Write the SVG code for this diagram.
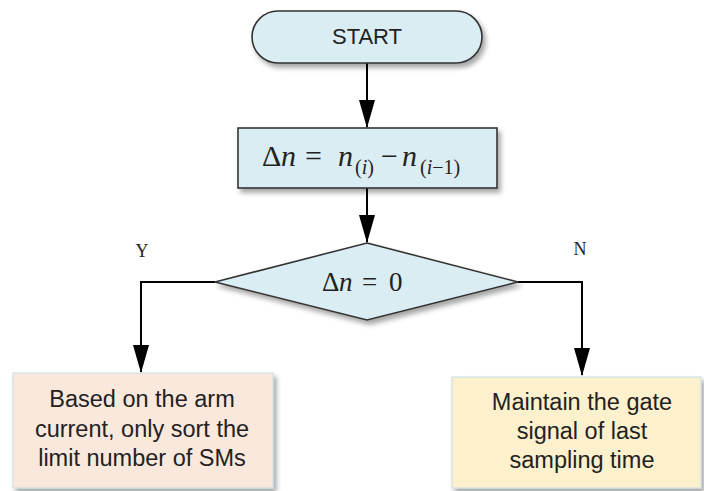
<svg xmlns="http://www.w3.org/2000/svg" width="704" height="491" viewBox="0 0 704 491">
<defs>
<filter id="sh" x="-10%" y="-20%" width="130%" height="150%">
<feDropShadow dx="3" dy="4" stdDeviation="2.5" flood-color="#000" flood-opacity="0.35"/>
</filter>
<marker id="ah" markerUnits="userSpaceOnUse" markerWidth="28" markerHeight="16" refX="27" refY="8" orient="auto" viewBox="0 0 28 16">
<path d="M0,0 L28,8 L0,16 Z" fill="#000"/>
</marker>
<style>
.conn{fill:none;stroke:#000;stroke-width:2}
.blue{fill:#daedf3;stroke:#333;stroke-width:1.6}
.sans{font-family:"Liberation Sans",Arial,sans-serif;fill:#222;text-anchor:middle}
.ser{font-family:"Liberation Serif","Times New Roman",serif;fill:#222}
.it{font-style:italic}
</style>
</defs>
<g id="connectors">
<path class="conn" d="M367,63 V127" marker-end="url(#ah)"/>
<path class="conn" d="M367,188 V242" marker-end="url(#ah)"/>
<path class="conn" d="M215,282 H141 V372" marker-end="url(#ah)"/>
<path class="conn" d="M518,282 H582 V375" marker-end="url(#ah)"/>
</g>
<g id="start">
<rect x="252" y="11" width="230" height="52" rx="26" class="blue" filter="url(#sh)"/>
<text x="367" y="44" class="sans" font-size="22">START</text>
</g>
<g id="calc">
<rect x="238" y="128" width="259" height="60" class="blue" filter="url(#sh)"/>
<text class="ser" font-size="30" y="166"><tspan x="262">Δ</tspan><tspan x="281" class="it">n</tspan><tspan x="305">=</tspan><tspan x="338" class="it">n</tspan><tspan x="355" y="174" font-size="20">(<tspan class="it">i</tspan>)</tspan><tspan x="381" y="166">−</tspan><tspan x="402" class="it">n</tspan><tspan x="420" y="174" font-size="20">(<tspan class="it">i</tspan>−1)</tspan></text>
</g>
<g id="decision">
<polygon points="367,243 518,282 367,320 215,282" class="blue" filter="url(#sh)"/>
<text class="ser" font-size="27" y="291"><tspan x="322">Δ</tspan><tspan x="339" class="it">n</tspan><tspan x="362">=</tspan><tspan x="389">0</tspan></text>
</g>
<g id="labels">
<text x="142" y="257" class="ser" font-size="18" text-anchor="middle">Y</text>
<text x="580" y="255" class="ser" font-size="18" text-anchor="middle">N</text>
</g>
<g id="yes-box">
<rect x="13" y="373" width="260" height="115" fill="#fbe8dc" stroke="#c7dbe6" stroke-width="1" filter="url(#sh)"/>
<text class="sans" font-size="23.5"><tspan x="142" y="407">Based on the arm</tspan><tspan x="142" y="437">current, only sort the</tspan><tspan x="142" y="466">limit number of SMs</tspan></text>
</g>
<g id="no-box">
<rect x="452" y="377" width="249" height="111" fill="#fdf0cd" stroke="#c7dbe6" stroke-width="1" filter="url(#sh)"/>
<text class="sans" font-size="23.5"><tspan x="582" y="410">Maintain the gate</tspan><tspan x="582" y="439">signal of last</tspan><tspan x="582" y="468">sampling time</tspan></text>
</g>
</svg>
